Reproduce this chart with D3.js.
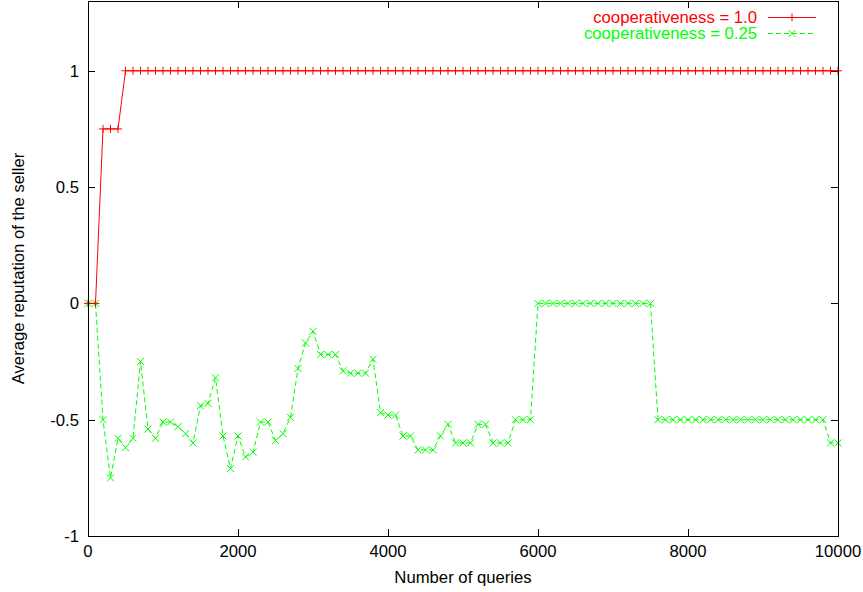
<!DOCTYPE html>
<html>
<head>
<meta charset="utf-8">
<script src="https://cdn.jsdelivr.net/npm/d3@7"></script>
<style>
  body { margin: 0; background: #fff; }
  svg { display: block; font-family: "Liberation Sans", Arial, sans-serif; }
</style>
</head>
<body>
<div id="chart"></div>
<script>
// sample points: one every 100 queries
var queries = [
  0, 100, 200, 300, 400, 500, 600, 700, 800, 900,
  1000, 1100, 1200, 1300, 1400, 1500, 1600, 1700, 1800, 1900,
  2000, 2100, 2200, 2300, 2400, 2500, 2600, 2700, 2800, 2900,
  3000, 3100, 3200, 3300, 3400, 3500, 3600, 3700, 3800, 3900,
  4000, 4100, 4200, 4300, 4400, 4500, 4600, 4700, 4800, 4900,
  5000, 5100, 5200, 5300, 5400, 5500, 5600, 5700, 5800, 5900,
  6000, 6100, 6200, 6300, 6400, 6500, 6600, 6700, 6800, 6900,
  7000, 7100, 7200, 7300, 7400, 7500, 7600, 7700, 7800, 7900,
  8000, 8100, 8200, 8300, 8400, 8500, 8600, 8700, 8800, 8900,
  9000, 9100, 9200, 9300, 9400, 9500, 9600, 9700, 9800, 9900,
  10000
];

// cooperativeness = 1.0
var coop100 = [
  0, 0, 0.75, 0.75, 0.75, 1, 1, 1, 1, 1,
  1, 1, 1, 1, 1, 1, 1, 1, 1, 1,
  1, 1, 1, 1, 1, 1, 1, 1, 1, 1,
  1, 1, 1, 1, 1, 1, 1, 1, 1, 1,
  1, 1, 1, 1, 1, 1, 1, 1, 1, 1,
  1, 1, 1, 1, 1, 1, 1, 1, 1, 1,
  1, 1, 1, 1, 1, 1, 1, 1, 1, 1,
  1, 1, 1, 1, 1, 1, 1, 1, 1, 1,
  1, 1, 1, 1, 1, 1, 1, 1, 1, 1,
  1, 1, 1, 1, 1, 1, 1, 1, 1, 1,
  1
];

// cooperativeness = 0.25
var coop025 = [
  0, 0, -0.5, -0.75, -0.58, -0.62, -0.58, -0.25, -0.54, -0.58,
  -0.51, -0.51, -0.53, -0.56, -0.6, -0.44, -0.43, -0.32, -0.57, -0.71,
  -0.57, -0.66, -0.64, -0.51, -0.51, -0.59, -0.56, -0.49, -0.28, -0.17,
  -0.12, -0.22, -0.22, -0.22, -0.29, -0.3, -0.3, -0.3, -0.24, -0.47,
  -0.48, -0.48, -0.57, -0.57, -0.63, -0.63, -0.63, -0.57, -0.52, -0.6,
  -0.6, -0.6, -0.52, -0.52, -0.6, -0.6, -0.6, -0.5, -0.5, -0.5,
  0, 0, 0, 0, 0, 0, 0, 0, 0, 0,
  0, 0, 0, 0, 0, 0, -0.5, -0.5, -0.5, -0.5,
  -0.5, -0.5, -0.5, -0.5, -0.5, -0.5, -0.5, -0.5, -0.5, -0.5,
  -0.5, -0.5, -0.5, -0.5, -0.5, -0.5, -0.5, -0.5, -0.5, -0.6,
  -0.6
];

var xTicks = [0, 2000, 4000, 6000, 8000, 10000];
var yTicks = [-1, -0.5, 0, 0.5, 1];
var seriesNames = ["cooperativeness = 1.0", "cooperativeness = 0.25"];

(function () {
    "use strict";

    var width = 863, height = 592;
    var plotLeft = 88, plotRight = 838, plotTop = 1, plotBottom = 536;
    var fontSize = 16.7;

    var x = d3.scaleLinear().domain([0, 10000]).range([plotLeft, plotRight]);
    var y = d3.scaleLinear().domain([-1, 1.3]).range([plotBottom, plotTop]);

    var svg = d3.select("#chart").append("svg")
        .attr("width", width)
        .attr("height", height);

    // ticks on all four sides, pointing inward (gnuplot style)
    var tickLen = 7;
    var axes = svg.append("g").attr("stroke", "#000").attr("stroke-width", 1);
    xTicks.forEach(function (t) {
        var px = Math.round(x(t)) + 0.5;
        axes.append("line").attr("x1", px).attr("x2", px).attr("y1", plotBottom).attr("y2", plotBottom - tickLen);
        axes.append("line").attr("x1", px).attr("x2", px).attr("y1", plotTop).attr("y2", plotTop + tickLen);
    });
    yTicks.forEach(function (t) {
        var py = Math.round(y(t)) + 0.5;
        axes.append("line").attr("x1", plotLeft).attr("x2", plotLeft + tickLen).attr("y1", py).attr("y2", py);
        axes.append("line").attr("x1", plotRight).attr("x2", plotRight - tickLen).attr("y1", py).attr("y2", py);
    });

    // tick labels
    svg.append("g").selectAll("text")
        .data(xTicks).enter().append("text")
        .attr("x", function (d) { return x(d); })
        .attr("y", 557)
        .attr("text-anchor", "middle")
        .attr("font-size", fontSize)
        .text(function (d) { return d; });

    svg.append("g").selectAll("text")
        .data(yTicks).enter().append("text")
        .attr("x", 79)
        .attr("y", function (d) { return y(d) + 6; })
        .attr("text-anchor", "end")
        .attr("font-size", fontSize)
        .text(function (d) { return d; });

    // axis titles
    svg.append("text")
        .attr("x", (plotLeft + plotRight) / 2)
        .attr("y", 583)
        .attr("text-anchor", "middle")
        .attr("font-size", fontSize)
        .text("Number of queries");

    svg.append("text")
        .attr("transform", "translate(24," + ((plotTop + plotBottom) / 2) + ") rotate(-90)")
        .attr("text-anchor", "middle")
        .attr("font-size", fontSize)
        .text("Average reputation of the seller");

    // lines
    var line = d3.line()
        .x(function (d) { return x(d[0]); })
        .y(function (d) { return y(d[1]); });

    var redData = d3.zip(queries, coop100);
    var greenData = d3.zip(queries, coop025);

    svg.append("path")
        .datum(greenData)
        .attr("d", line)
        .attr("fill", "none")
        .attr("stroke", "#00ff00")
        .attr("stroke-dasharray", "5,3");

    svg.append("path")
        .datum(redData)
        .attr("d", line)
        .attr("fill", "none")
        .attr("stroke", "#ff0000");

    // point markers
    function plusPath(cx, cy, r) {
        return "M" + (cx - r) + "," + cy + "H" + (cx + r) + "M" + cx + "," + (cy - r) + "V" + (cy + r);
    }
    function crossPath(cx, cy, r) {
        return "M" + (cx - r) + "," + (cy - r) + "L" + (cx + r) + "," + (cy + r) +
            "M" + (cx - r) + "," + (cy + r) + "L" + (cx + r) + "," + (cy - r);
    }

    svg.append("g").selectAll("path")
        .data(greenData).enter().append("path")
        .attr("d", function (d) { return crossPath(x(d[0]), y(d[1]), 3.5); })
        .attr("stroke", "#00ff00")
        .attr("fill", "none");

    svg.append("g").selectAll("path")
        .data(redData).enter().append("path")
        .attr("d", function (d) { return plusPath(x(d[0]), y(d[1]), 4); })
        .attr("stroke", "#ff0000")
        .attr("fill", "none");

    // legend
    var legendColors = ["#ff0000", "#00ff00"];
    var legend = svg.append("g");
    seriesNames.forEach(function (name, i) {
        var ly = 17 + i * 16;
        legend.append("text")
            .attr("x", 757)
            .attr("y", ly + 6)
            .attr("text-anchor", "end")
            .attr("font-size", fontSize)
            .attr("fill", legendColors[i])
            .text(name);
        var sample = legend.append("line")
            .attr("x1", 768).attr("x2", 816)
            .attr("y1", ly + 0.5).attr("y2", ly + 0.5)
            .attr("stroke", legendColors[i]);
        if (i === 1) sample.attr("stroke-dasharray", "5,3");
        legend.append("path")
            .attr("d", i === 0 ? plusPath(792, ly + 0.5, 4) : crossPath(792, ly + 0.5, 3.5))
            .attr("stroke", legendColors[i])
            .attr("fill", "none");
    });

    // frame
    svg.append("rect")
        .attr("x", plotLeft + 0.5).attr("y", plotTop + 0.5)
        .attr("width", plotRight - plotLeft).attr("height", plotBottom - plotTop)
        .attr("fill", "none")
        .attr("stroke", "#000");
})();
</script>
</body>
</html>
